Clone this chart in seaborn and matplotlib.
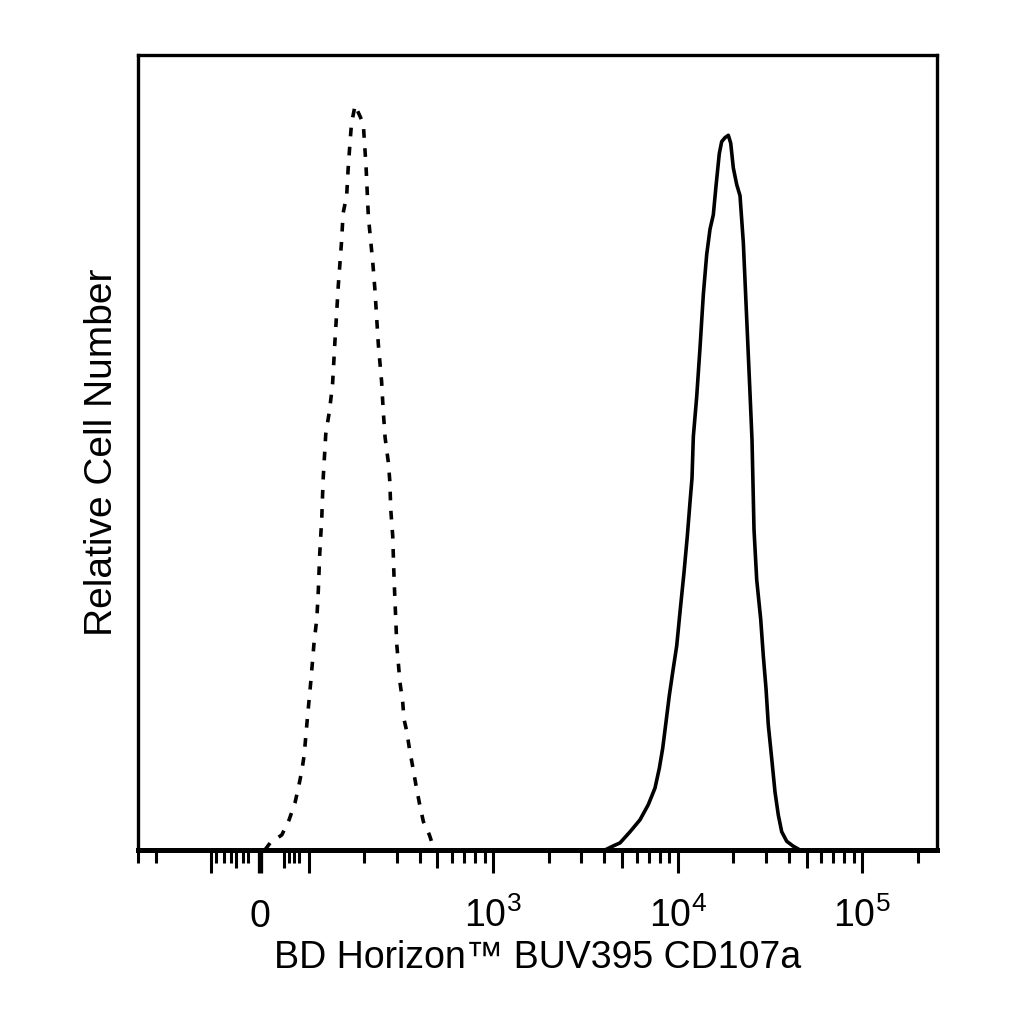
import matplotlib
matplotlib.use("Agg")
import matplotlib.pyplot as plt
import seaborn as sns
from matplotlib.ticker import FixedLocator, FixedFormatter

# isotype control (dashed) - fluorescence value / relative count
isotype_x = [10, 21, 45, 60, 72, 79, 86, 91, 98, 103, 107, 111, 113, 115, 118,
             120, 124, 130, 135, 139, 145, 151, 154, 161, 164, 168, 171, 179,
             185, 198, 205, 211, 223, 229, 234, 239, 249, 254, 260, 271, 276,
             279, 286, 291, 301, 313, 324, 329, 341, 352, 367, 382, 399, 419,
             452, 467, 491]
isotype_counts = [0.0, 0.9, 1.9, 3.8, 5.9, 7.8, 9.9, 11.9, 16.8, 21.3, 25.9,
                  29.2, 32.6, 37.2, 41.8, 46.6, 52.3, 55.3, 58.6, 63.9, 71.0,
                  76.5, 80.1, 82.3, 85.7, 89.1, 91.4, 93.7, 92.9, 91.4, 86.0,
                  79.7, 73.9, 70.5, 67.0, 63.6, 58.9, 55.3, 51.9, 48.7, 46.3,
                  42.9, 39.5, 34.0, 25.8, 21.1, 18.6, 16.5, 14.9, 12.8, 10.5,
                  8.2, 5.9, 3.6, 1.9, 0.9, 0.0]

# CD107a stained (solid)
cd107a_x = [4040, 4470, 4880, 5530, 6260, 6940, 7550, 7970, 8310, 8660, 9020,
            9420, 9900, 10310, 10840, 11300, 11680, 11980, 12180, 12700, 13240,
            13800, 14390, 15000, 15630, 16160, 16840, 17350, 18080, 18850,
            19420, 20060, 20930, 21810, 22730, 23710, 24710, 25330, 25970,
            26860, 28240, 29170, 30170, 31050, 32390, 33750, 35170, 36690,
            39060, 42260, 46100]
cd107a_counts = [0.0, 0.5, 0.9, 2.3, 3.8, 5.7, 7.8, 10.3, 12.8, 16.1, 19.4,
                 22.4, 25.7, 29.9, 34.9, 39.5, 43.7, 46.8, 52.0, 57.0, 63.2,
                 69.9, 74.9, 78.1, 79.9, 83.5, 87.6, 89.1, 89.6, 89.9, 88.9,
                 85.8, 83.7, 82.3, 76.4, 66.8, 57.4, 51.6, 40.3, 34.0, 29.0,
                 24.4, 20.3, 15.7, 11.5, 7.3, 4.4, 2.3, 1.1, 0.5, 0.0]

major_ticks = [-100, 0, 100, 1e3, 1e4, 1e5]
major_labels = ["", "0", "", r"$\mathregular{10^3}$", r"$\mathregular{10^4}$",
                r"$\mathregular{10^5}$"]
medium_ticks = [-50, 50, 500, 5e3, 5e4]
short_ticks = [-250, -200, -90, -75, -60, -35, -25, 60, 70, 80,
               200, 300, 400, 600, 700, 800, 900,
               2e3, 3e3, 4e3, 6e3, 7e3, 8e3, 9e3,
               2e4, 3e4, 4e4, 6e4, 7e4, 8e4, 9e4, 2e5]

sns.set_style("ticks")
plt.rcParams["font.family"] = ["Liberation Sans", "DejaVu Sans"]
plt.rcParams["text.color"] = "black"
plt.rcParams["axes.labelcolor"] = "black"
plt.rcParams["xtick.color"] = "black"
plt.rcParams["xtick.labelcolor"] = "black"

fig = plt.figure(figsize=(10.24, 10.24), dpi=100)
ax = fig.add_axes([0.1348, 0.1699, 0.7798, 0.7764])

sns.lineplot(x=isotype_x, y=isotype_counts, ax=ax, color="black", lw=2.6,
             linestyle=(0, (2.4, 2.9)), estimator=None, sort=False)
sns.lineplot(x=cd107a_x, y=cd107a_counts, ax=ax, color="black", lw=2.6,
             linestyle="-", estimator=None, sort=False)

ax.set_xscale("symlog", linthresh=100, linscale=0.2367)
ax.set_xlim(-250, 253400)
ax.set_ylim(0, 100)
ax.set_yticks([])

minor_all = sorted(short_ticks + medium_ticks)
ax.xaxis.set_major_locator(FixedLocator(major_ticks))
ax.xaxis.set_major_formatter(FixedFormatter(major_labels))
ax.xaxis.set_minor_locator(FixedLocator(minor_all))
ax.tick_params(axis="x", which="major", direction="out", length=16.5,
               width=2.2, pad=38.7, labelsize=27, color="black",
               labelcolor="black")
ax.tick_params(axis="x", which="minor", direction="out", length=9.4,
               width=2.2, color="black")

for t, loc in zip(ax.xaxis.get_major_ticks(), major_ticks):
    t.label1.set_verticalalignment("baseline")
    if loc == 0:
        t.tick1line.set_markeredgewidth(3.8)
for t, loc in zip(ax.xaxis.get_minor_ticks(), minor_all):
    if loc in medium_ticks:
        t.tick1line.set_markersize(13)

for side in ["left", "right", "top"]:
    ax.spines[side].set_linewidth(2.4)
    ax.spines[side].set_color("black")
ax.spines["bottom"].set_linewidth(3.6)
ax.spines["bottom"].set_color("black")

ax.set_xlabel("BD Horizon™ BUV395 CD107a", fontsize=27, color="black")
ax.set_ylabel("Relative Cell Number", fontsize=28, color="black")
ax.xaxis.set_label_coords(0.5, -0.1128)
ax.yaxis.set_label_coords(-0.0225, 0.5)

fig.savefig("out.png", dpi=100, facecolor="white")
